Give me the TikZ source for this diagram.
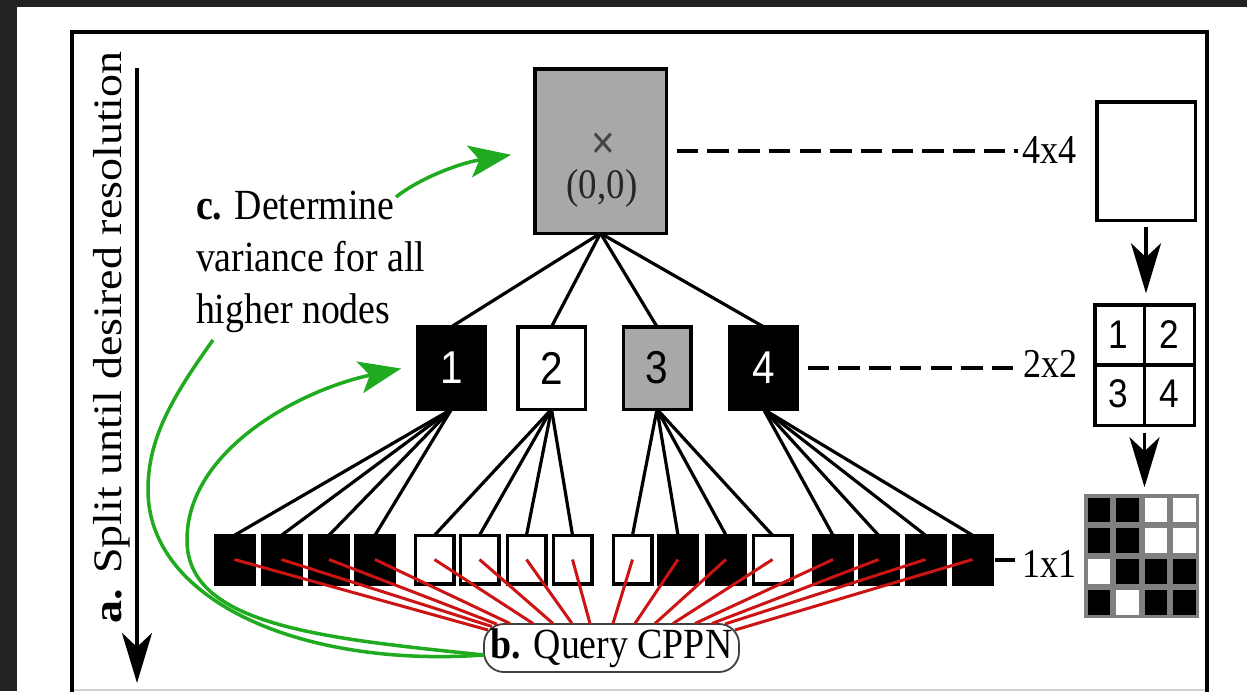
\documentclass[tikz,border=0pt]{standalone}
\usepackage{graphicx}
\usepackage{fontspec}
\setmainfont{Liberation Serif}
\newfontfamily\numfont{Liberation Sans}
\usetikzlibrary{arrows.meta,calc}

\definecolor{boxgray}{HTML}{A8A8A8}
\definecolor{queryred}{HTML}{CC1414}
\definecolor{pathgreen}{HTML}{1FAA1F}
\definecolor{pagedark}{HTML}{222222}
\definecolor{gridgray}{HTML}{808080}
\definecolor{inkgray}{HTML}{444444}

% slightly condensed lettering
\newcommand{\narrow}[1]{\scalebox{0.88}[1]{#1}}
\newcommand{\setfs}[1]{\fontsize{#1}{#1}\selectfont}

\begin{document}
\begin{tikzpicture}[x=1pt,y=-1pt,
  every node/.style={inner sep=0pt,outer sep=0pt},
  leafbox/.style={draw=black,line width=3.5pt,minimum width=38.5pt,minimum height=48.5pt},
  midbox/.style={draw=black,line width=3.5pt,minimum width=67.5pt,minimum height=82.5pt,
    font=\numfont\setfs{46}},
  treeline/.style={line width=3.2pt},
  levelline/.style={line width=4pt,dash pattern=on 21.5pt off 9.2pt},
  levellabel/.style={anchor=base west,font=\setfs{41}},
  queryline/.style={draw=queryred,line width=3pt},
  greenpath/.style={draw=pathgreen,line width=3.5pt},
  greentip/.style={-{Stealth[length=42pt,width=32pt,inset=10pt]}},
  bigarrow/.style={line width=3.5pt,-{Stealth[length=50pt,width=30pt,inset=14pt]}},
  quaddigit/.style={font=\numfont\setfs{40}},
  pixel/.style={draw=gridgray,line width=3pt,minimum width=25.75pt,minimum height=28pt}]

% page
\useasboundingbox (0,0) rectangle (1247,691);
\fill[white] (0,0) rectangle (1247,691);
\fill[pagedark] (0,0) rectangle (1247,7);
\fill[pagedark] (0,0) rectangle (17,691);

% frame
\draw[line width=4pt] (72,700) -- (72,32) -- (1207,32) -- (1207,700);
\draw[gray!35,line width=2pt] (74,689.5) -- (1205,689.5);

% a. split direction
\coordinate (atop) at (137,68);
\coordinate (abot) at (137,683);
\draw[bigarrow] (atop) -- (abot);
\node[rotate=90,anchor=base,font=\setfs{46}] (split) at (121,337.5)
  {\scalebox{1}[0.88]{\textbf{a.} Split until desired resolution}};

% root of the quadtree
\node[draw=black,line width=3.5pt,fill=boxgray,minimum width=131.5pt,minimum height=164.5pt] (root) at (600.5,151) {};
\node[font=\numfont\setfs{46},text=inkgray] (mark) at (603,146) {\narrow{×}};
\node[font=\setfs{42},text=black!85] (origin) at (602,188) {\narrow{(0,0)}};

% second level
\node[midbox,fill=black,text=white] (m1) at (451.5,368) {\narrow{1}};
\node[midbox,fill=white] (m2) at (551.5,368) {\narrow{2}};
\node[midbox,fill=boxgray] (m3) at (657,368) {\narrow{3}};
\node[midbox,fill=black,text=white] (m4) at (763.5,368) {\narrow{4}};

% leaves
\foreach \x/\f [count=\k] in {234.5/black,281.5/black,329/black,375/black,
    434.5/white,479.5/white,526.5/white,572.5/white,
    632.5/white,678/black,726/black,772.5/white,
    833/black,878.5/black,925.5/black,972.5/black}
  \node[leafbox,fill=\f] (b\k) at (\x,559.5) {};

% tree edges
\foreach \k in {1,...,4} \draw[treeline] (root.south) -- (m\k.north);
\foreach \k in {1,...,16} {
  \pgfmathtruncatemacro{\p}{int((\k-1)/4)+1}
  \draw[treeline] (m\p.south) -- (b\k.north);
}

% b. query node
\node[draw=black!75,line width=1.8pt,fill=white,rounded corners=20pt,
  minimum width=255pt,minimum height=48pt,font=\setfs{43}] (q) at (611.5,648)
  {\narrow{\textbf{b.} Query CPPN}};

% queries from every leaf
\foreach \k/\dx/\dy in {1/-123.5/-18,2/-119.5/-21.5,3/-114.5/-23.8,4/-101.5/-24.5,
    5/-78.5/-24.5,6/-58.5/-24.5,7/-39.5/-24.5,8/-21.5/-24.5,
    9/1.5/-24.5,10/23.5/-24.5,11/43.5/-24.5,12/61.5/-24.5,
    13/83.5/-24.5,14/100.5/-24.5,15/113.5/-24,16/123.5/-18}
  \draw[queryline] (b\k.center) -- ($(q.center)+(\dx,\dy)$);

% c. note
\node[anchor=north west,align=left,font=\fontsize{43}{52}\selectfont] (note) at (196,190.6)
  {\narrow{\textbf{c.} Determine}\\\narrow{variance for all}\\\narrow{higher nodes}};

% green flow
\coordinate (cfrom) at (396,197);
\coordinate (hfrom) at (213,340);
\draw[greenpath,greentip,shorten >=24pt] (cfrom) .. controls (420,178) and (460,163) .. (root.west);
\draw[greenpath] (hfrom) .. controls (170,400) and (148,440) .. (148,490)
  .. controls (148,600) and (300,668) .. ($(q.west)+(0,7)$);
\draw[greenpath,greentip,shorten >=17pt] ($(q.west)+(0,7)$) .. controls (320,638) and (187,625) .. (187,540)
  .. controls (187,450) and (300,390) .. ($(m1.west)+(0,-3)$);

% resolution labels
\node[levellabel] (l44) at (1022,163) {\narrow{4x4}};
\node[levellabel] (l22) at (1023,377) {\narrow{2x2}};
\node[levellabel] (l11) at (1022,577) {\narrow{1x1}};
\draw[levelline,shorten <=10.5pt,shorten >=4pt] (root.east) -- (root.east -| l44.west);
\draw[levelline,shorten <=10.5pt,shorten >=10pt] (m4.east) -- (m4.east -| l22.west);
\draw[levelline,shorten <=3pt,shorten >=7pt] (b16.east) -- (b16.east -| l11.west);

% substrate pictures
\node[draw=black,line width=3.5pt,fill=white,minimum width=98.5pt,minimum height=118.5pt] (whole) at (1146,161) {};
\node[draw=black,line width=3.5pt,fill=white,minimum width=99.5pt,minimum height=120.5pt] (quad) at (1144.5,365) {};
\draw[line width=3.5pt] (quad.north) -- (quad.south);
\draw[line width=3.5pt] (quad.west) -- (quad.east);
\node[quaddigit] (d1) at (1118.5,335) {\narrow{1}};
\node[quaddigit] (d2) at (1169,335) {\narrow{2}};
\node[quaddigit] (d3) at (1118.5,394) {\narrow{3}};
\node[quaddigit] (d4) at (1169.5,394) {\narrow{4}};

\foreach \r/\c/\f in {0/0/black,0/1/black,0/2/white,0/3/white,
    1/0/black,1/1/black,1/2/white,1/3/white,
    2/0/white,2/1/black,2/2/black,2/3/black,
    3/0/black,3/1/white,3/2/black,3/3/black}
  \node[pixel,fill=\f] (p\r\c) at ({1098.4+28.75*\c},{509.5+31*\r}) {};
\node[draw=gridgray,line width=3.5pt,minimum width=111.5pt,minimum height=120.5pt] (pix) at (1141.5,556) {};

\draw[bigarrow,shorten <=6.5pt,shorten >=11.5pt] (whole.south) -- (whole.south |- quad.north);
\draw[bigarrow,shorten <=7.5pt,shorten >=8.5pt] (quad.south) -- (quad.south |- pix.north);
\end{tikzpicture}
\end{document}
